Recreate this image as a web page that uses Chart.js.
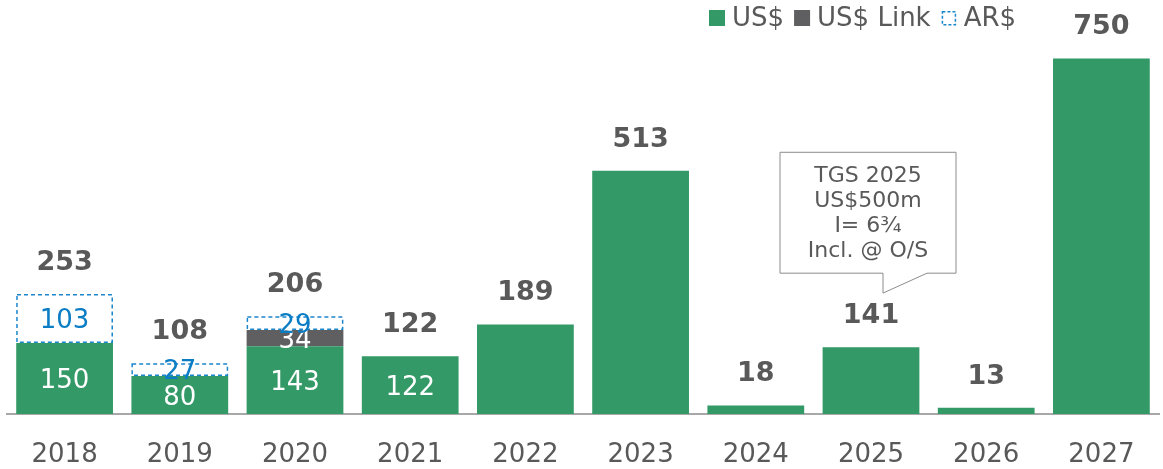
<!DOCTYPE html>
<html>
<head>
<meta charset="utf-8">
<script src="https://cdn.jsdelivr.net/npm/chart.js@4/dist/chart.umd.min.js"></script>
<style>
  html, body { margin: 0; padding: 0; background: #fff; }
  #wrap { width: 1163px; height: 469px; position: relative; }
</style>
</head>
<body>
<div id="wrap"><canvas id="grafico"></canvas></div>
<script>
// datos
const anios = ['2018', '2019', '2020', '2021', '2022', '2023', '2024', '2025', '2026', '2027'];
const usd = [150, 80, 143, 122, 189, 513, 18, 141, 13, 750];
const usdLink = [null, null, 34, null, null, null, null, null, null, null];
const ars = [103, 27, 29, null, null, null, null, null, null, null];
const totales = [253, 108, 206, 122, 189, 513, 18, 141, 13, 750];
const conEtiquetaInterna = [true, true, true, true, false, false, false, false, false, false];
const nombresSerie = ['US$', 'US$ Link', 'AR$'];
const notaTexto = ['TGS 2025', 'US$500m', 'I= 6¾', 'Incl. @ O/S'];

const VERDE = '#339966';
const GRIS = '#5f5f61';
const AZUL = '#1a86cc';
const TEXTO = '#595959';
const FUENTE = '"DejaVu Sans", Verdana, sans-serif';

// bordes punteados para AR$ (Chart.js no soporta borderDash en barras)
const bordePunteado = {
    id: 'bordePunteado',
    afterDatasetsDraw(chart) {
        const ctx = chart.ctx;
        const meta = chart.getDatasetMeta(2);
        ctx.save();
        ctx.strokeStyle = AZUL;
        ctx.lineWidth = 1.5;
        ctx.setLineDash([4, 3]);
        meta.data.forEach((bar, i) => {
            if (ars[i] == null) return;
            const x = bar.x - bar.width / 2;
            ctx.strokeRect(x + 0.75, bar.y + 0.75, bar.width - 1.5, bar.base - bar.y - 1.5);
        });
        ctx.restore();
    }
};

const etiquetas = {
    id: 'etiquetas',
    afterDraw(chart) {
        const ctx = chart.ctx;
        ctx.save();
        ctx.textAlign = 'center';
        ctx.textBaseline = 'middle';

        // etiquetas internas
        ctx.font = '26px ' + FUENTE;
        [0, 1, 2].forEach(d => {
            const meta = chart.getDatasetMeta(d);
            const valores = chart.data.datasets[d].data;
            meta.data.forEach((bar, i) => {
                if (valores[i] == null || !conEtiquetaInterna[i]) return;
                ctx.fillStyle = d === 2 ? '#0b7dc4' : '#ffffff';
                ctx.fillText(String(valores[i]), bar.x, (bar.y + bar.base) / 2 + 3);
            });
        });

        // totales arriba de cada barra
        const y = chart.scales.y;
        const metaUsd = chart.getDatasetMeta(0);
        ctx.font = 'bold 27px ' + FUENTE;
        ctx.fillStyle = TEXTO;
        totales.forEach((t, i) => {
            const top = y.getPixelForValue((usd[i] || 0) + (usdLink[i] || 0) + (ars[i] || 0));
            ctx.fillText(String(t), metaUsd.data[i].x, top - 31);
        });

        // leyenda
        ctx.font = '26px ' + FUENTE;
        ctx.textAlign = 'left';
        let lx = 709;
        const ly = 18;
        [VERDE, GRIS, null].forEach((c, k) => {
            if (c) {
                ctx.fillStyle = c;
                ctx.fillRect(lx, ly - 8, 16, 16);
            } else {
                ctx.save();
                ctx.strokeStyle = AZUL;
                ctx.lineWidth = 1.5;
                ctx.setLineDash([3, 2]);
                ctx.strokeRect(lx + 1.75, ly - 6.25, 13, 13);
                ctx.restore();
            }
            ctx.fillStyle = TEXTO;
            ctx.fillText(nombresSerie[k], lx + 23, ly + 1);
            lx += 23 + ctx.measureText(nombresSerie[k]).width + 10;
        });

        // globo de nota sobre 2025
        const bx = metaUsd.data[7].x;
        const izq = bx - 91, der = bx + 85;
        const arriba = y.getPixelForValue(552), abajo = y.getPixelForValue(297);
        const punta = y.getPixelForValue(255);
        ctx.beginPath();
        ctx.moveTo(izq, arriba);
        ctx.lineTo(der, arriba);
        ctx.lineTo(der, abajo);
        ctx.lineTo(bx + 56, abajo);
        ctx.lineTo(bx + 12, punta);
        ctx.lineTo(bx + 12, abajo);
        ctx.lineTo(izq, abajo);
        ctx.closePath();
        ctx.fillStyle = '#ffffff';
        ctx.fill();
        ctx.strokeStyle = '#8c8c8c';
        ctx.lineWidth = 1;
        ctx.stroke();

        ctx.textAlign = 'center';
        ctx.fillStyle = TEXTO;
        ctx.font = '22px ' + FUENTE;
        notaTexto.forEach((linea, k) => {
            ctx.fillText(linea, (izq + der) / 2, arriba + 24 + k * 25);
        });
        ctx.restore();
    }
};

new Chart(document.getElementById('grafico'), {
    type: 'bar',
    data: {
        labels: anios,
        datasets: [
            { label: nombresSerie[0], data: usd, backgroundColor: VERDE },
            { label: nombresSerie[1], data: usdLink, backgroundColor: GRIS },
            { label: nombresSerie[2], data: ars, backgroundColor: '#ffffff' }
        ]
    },
    options: {
        responsive: true,
        maintainAspectRatio: false,
        animation: false,
        layout: { padding: { top: 11, left: 7, right: 4, bottom: 0 } },
        datasets: { bar: { categoryPercentage: 1, barPercentage: 0.84 } },
        plugins: { legend: { display: false }, tooltip: { enabled: false } },
        scales: {
            x: {
                stacked: true,
                grid: { display: false },
                border: { display: true, color: '#a8a8a8', width: 2 },
                ticks: { color: TEXTO, font: { family: FUENTE, size: 26 }, padding: 18 },
                afterFit(scale) { scale.height = 55; }
            },
            y: {
                stacked: true,
                display: false,
                min: 0,
                max: 850
            }
        }
    },
    plugins: [bordePunteado, etiquetas]
});
</script>
</body>
</html>
